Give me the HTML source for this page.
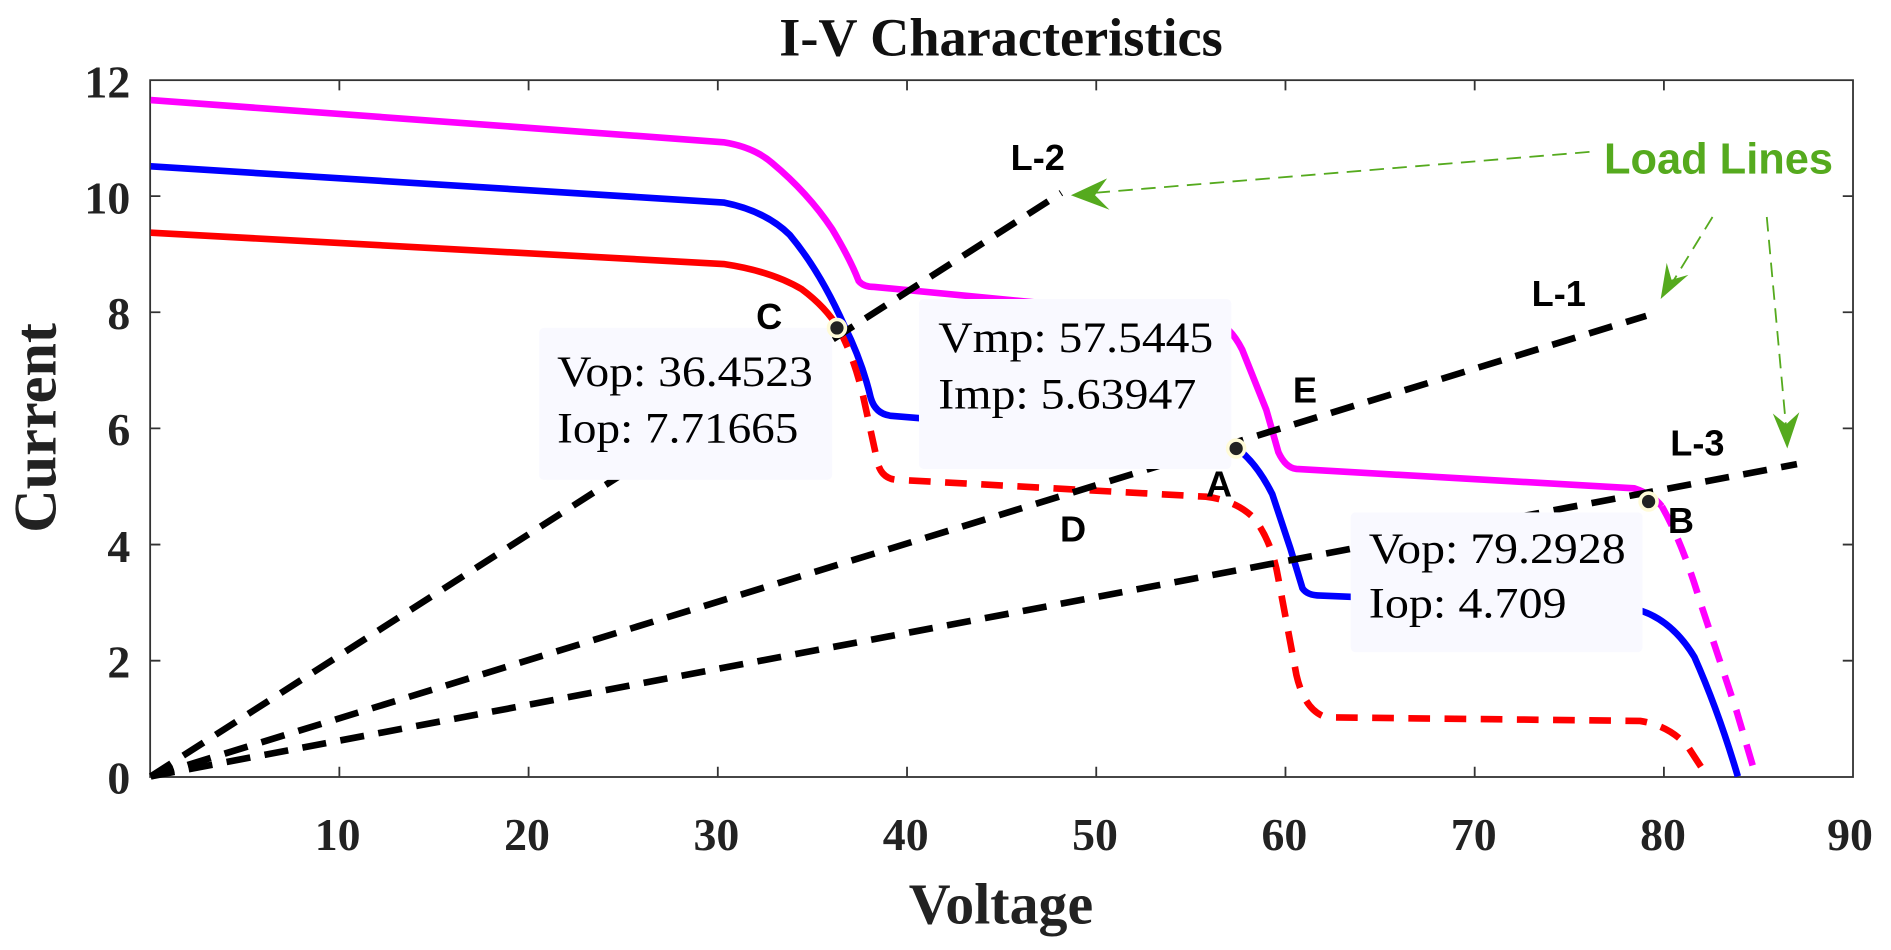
<!DOCTYPE html>
<html><head><meta charset="utf-8"><style>
html,body{margin:0;padding:0;background:#fff;}
svg{display:block;}
.tk{font-family:"Liberation Serif",serif;font-weight:bold;font-size:38px;fill:#222;}
.lb{font-family:"Liberation Sans",sans-serif;font-weight:bold;font-size:30px;fill:#000;}
.bx{font-family:"Liberation Serif",serif;font-size:36px;fill:#000;}
</style></head><body>
<svg width="1891" height="950" viewBox="0 0 1568 788" preserveAspectRatio="none" xmlns="http://www.w3.org/2000/svg">
<text x="830" y="46" text-anchor="middle" font-family="Liberation Serif,serif" font-weight="bold" font-size="45" fill="#111">I-V Characteristics</text>
<rect x="124.5" y="66.5" width="1412" height="578" fill="none" stroke="#333" stroke-width="1.5"/>
<g stroke="#333" stroke-width="1.5">
<path d="M281.4 644v-8M281.4 67v8M438.3 644v-8M438.3 67v8M595.2 644v-8M595.2 67v8M752.1 644v-8M752.1 67v8M909 644v-8M909 67v8M1065.9 644v-8M1065.9 67v8M1222.8 644v-8M1222.8 67v8M1379.7 644v-8M1379.7 67v8"/>
<path d="M125 548h8M1536 548h-8M125 451.7h8M1536 451.7h-8M125 355.3h8M1536 355.3h-8M125 259h8M1536 259h-8M125 162.7h8M1536 162.7h-8"/>
</g>
<g class="tk" text-anchor="end">
<text x="108" y="658">0</text><text x="108" y="562">2</text><text x="108" y="466">4</text><text x="108" y="369">6</text><text x="108" y="273">8</text><text x="108" y="177">10</text><text x="108" y="81">12</text>
</g>
<g class="tk" text-anchor="middle">
<text x="280" y="705">10</text><text x="437" y="705">20</text><text x="594" y="705">30</text><text x="751" y="705">40</text><text x="908" y="705">50</text><text x="1065" y="705">60</text><text x="1222" y="705">70</text><text x="1379" y="705">80</text><text x="1534" y="705">90</text>
</g>
<text x="830" y="766" text-anchor="middle" font-family="Liberation Serif,serif" font-weight="bold" font-size="48" fill="#222">Voltage</text>
<text transform="translate(46,355) rotate(-90)" text-anchor="middle" font-family="Liberation Serif,serif" font-weight="bold" font-size="50" fill="#222">Current</text>

<g fill="none" stroke-width="5.5" stroke-linejoin="round">
<path stroke="#ff00ff" d="M125 83 L600 118 Q625 122 640 135 Q670 160 690 190 Q705 215 712 233 Q716 238 725 238 L1005 265 Q1020 270 1030 290 L1050 340 L1060 375 Q1066 388 1075 389 L1355 405 Q1370 410 1378 420"/>
<path stroke="#ff00ff" stroke-dasharray="18 12" d="M1378 420 Q1395 450 1410 500 L1440 590 L1456 644"/>
<path stroke="#0000ff" d="M125 138 L600 168 Q635 175 655 195 Q680 225 700 270 Q715 300 722 330 Q726 344 740 345 L1020 368 Q1040 380 1055 410 L1070 455 L1080 488 Q1084 494 1095 494 L1355 505 Q1385 512 1405 545 Q1425 590 1441 644"/>
<path stroke="#ff0000" d="M125 193 L600 219 Q640 225 665 240 Q685 255 695 272"/>
<path stroke="#ff0000" stroke-dasharray="18 12" d="M695 272 Q708 295 716 330 L728 385 Q732 398 745 398 L1000 412 Q1025 415 1040 430 Q1055 450 1060 480 L1075 560 Q1082 590 1100 595 L1360 598 Q1385 602 1400 620 L1415 643"/>
</g>
<g fill="none" stroke="#000" stroke-width="5.5" stroke-dasharray="20 12">
<path d="M125 644 L880 160"/>
<path d="M125 644 L1365 262"/>
<path d="M125 644 L1490 385"/>
</g>
<rect x="447" y="272" width="243" height="126" rx="4" fill="#f9f9ff"/>
<rect x="762" y="248" width="259" height="141" rx="4" fill="#f9f9ff"/>
<rect x="1120" y="425" width="242" height="116" rx="4" fill="#f9f9ff"/>
<g class="bx">
<text x="462" y="320" textLength="212" lengthAdjust="spacingAndGlyphs">Vop:  36.4523</text><text x="462" y="367" textLength="200" lengthAdjust="spacingAndGlyphs">Iop:  7.71665</text>
<text x="778" y="292" textLength="228" lengthAdjust="spacingAndGlyphs">Vmp:  57.5445</text><text x="778" y="339" textLength="214" lengthAdjust="spacingAndGlyphs">Imp:  5.63947</text>
<text x="1135" y="467" textLength="213" lengthAdjust="spacingAndGlyphs">Vop:  79.2928</text><text x="1135" y="512" textLength="164" lengthAdjust="spacingAndGlyphs">Iop:  4.709</text>
</g>
<g fill="#222" stroke="#fffbd8" stroke-width="3">
<circle cx="694" cy="272" r="7"/><circle cx="1025" cy="372" r="7"/><circle cx="1367" cy="416" r="7"/>
</g>
<g class="lb">
<text x="627" y="273">C</text><text x="1072" y="334">E</text><text x="1000" y="412">A</text><text x="879" y="449">D</text><text x="1383" y="442">B</text>
<text x="838" y="141">L-2</text><text x="1270" y="254">L-1</text><text x="1385" y="378">L-3</text>
</g>
<text x="1330" y="144" font-family="Liberation Sans,sans-serif" font-weight="bold" font-size="36" fill="#55aa1e">Load Lines</text>
<g stroke="#55aa1e" stroke-width="1.5" fill="none" stroke-dasharray="12 7">
<path d="M1318 126 L895 161"/><path d="M1420 180 L1382 242"/><path d="M1465 180 L1482 365"/>
</g>
<g fill="#55aa1e">
<path d="M888 162 L918 148 L908 162 L920 174 Z"/>
<path d="M1377 248 L1382 218 L1386 232 L1400 228 Z"/>
<path d="M1482 372 L1470 343 L1481 352 L1492 342 Z"/>
</g>
</svg>
</body></html>
